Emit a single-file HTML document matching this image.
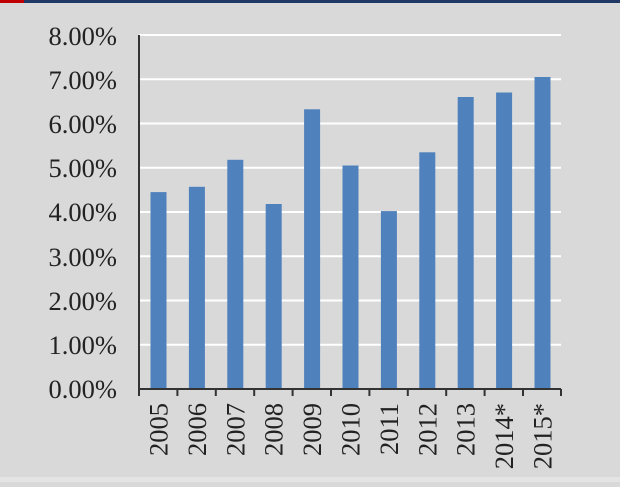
<!DOCTYPE html><html><head><style>body{margin:0;background:#d9d9d9}</style></head><body>
<svg width="620" height="482" xmlns="http://www.w3.org/2000/svg" font-family="Liberation Serif, serif" font-size="26.5" fill="#222">
<rect width="620" height="482" fill="#d9d9d9"/>
<rect x="0" y="0" width="620" height="3" fill="#1f3864"/>
<rect x="0" y="0" width="24" height="3" fill="#c00000"/>
<rect x="0" y="477" width="620" height="5" fill="#e4e4e4"/>
<g stroke="#fff" stroke-width="2">
<line x1="139" x2="561" y1="35" y2="35"/><line x1="139" x2="561" y1="79.25" y2="79.25"/><line x1="139" x2="561" y1="123.5" y2="123.5"/><line x1="139" x2="561" y1="167.75" y2="167.75"/><line x1="139" x2="561" y1="212" y2="212"/><line x1="139" x2="561" y1="256.25" y2="256.25"/><line x1="139" x2="561" y1="300.5" y2="300.5"/><line x1="139" x2="561" y1="344.75" y2="344.75"/>
</g>
<g fill="#4f81bd">
<rect x="150.5" y="192.1" width="16" height="196.9"/>
<rect x="188.9" y="186.8" width="16" height="202.2"/>
<rect x="227.3" y="159.8" width="16" height="229.2"/>
<rect x="265.7" y="204" width="16" height="185"/>
<rect x="304.1" y="109.3" width="16" height="279.7"/>
<rect x="342.5" y="165.5" width="16" height="223.5"/>
<rect x="380.9" y="211.1" width="16" height="177.9"/>
<rect x="419.3" y="152.3" width="16" height="236.7"/>
<rect x="457.7" y="97" width="16" height="292"/>
<rect x="496.1" y="92.5" width="16" height="296.5"/>
<rect x="534.5" y="77" width="16" height="312"/>
</g>
<g stroke="#333" stroke-width="2">
<line x1="139" x2="139" y1="35" y2="396"/><line x1="138" x2="561" y1="389" y2="389"/>
<line x1="177.4" x2="177.4" y1="389" y2="396"/><line x1="215.8" x2="215.8" y1="389" y2="396"/><line x1="254.2" x2="254.2" y1="389" y2="396"/><line x1="292.6" x2="292.6" y1="389" y2="396"/><line x1="331" x2="331" y1="389" y2="396"/><line x1="369.4" x2="369.4" y1="389" y2="396"/><line x1="407.8" x2="407.8" y1="389" y2="396"/><line x1="446.2" x2="446.2" y1="389" y2="396"/><line x1="484.6" x2="484.6" y1="389" y2="396"/><line x1="523" x2="523" y1="389" y2="396"/><line x1="561" x2="561" y1="389" y2="396"/>
</g>
<g text-anchor="end">
<text x="117" y="45">8.00%</text><text x="117" y="89">7.00%</text><text x="117" y="133">6.00%</text><text x="117" y="177">5.00%</text><text x="117" y="221">4.00%</text><text x="117" y="266">3.00%</text><text x="117" y="310">2.00%</text><text x="117" y="354">1.00%</text><text x="117" y="398">0.00%</text>
</g>
<g text-anchor="end">
<text transform="translate(167.5,403) rotate(-90)">2005</text>
<text transform="translate(205.9,403) rotate(-90)">2006</text>
<text transform="translate(244.3,403) rotate(-90)">2007</text>
<text transform="translate(282.7,403) rotate(-90)">2008</text>
<text transform="translate(321.1,403) rotate(-90)">2009</text>
<text transform="translate(359.5,403) rotate(-90)">2010</text>
<text transform="translate(397.9,403) rotate(-90)">2011</text>
<text transform="translate(436.3,403) rotate(-90)">2012</text>
<text transform="translate(474.7,403) rotate(-90)">2013</text>
<text transform="translate(513.1,403) rotate(-90)">2014*</text>
<text transform="translate(551.5,403) rotate(-90)">2015*</text>
</g>
</svg>
</body></html>
